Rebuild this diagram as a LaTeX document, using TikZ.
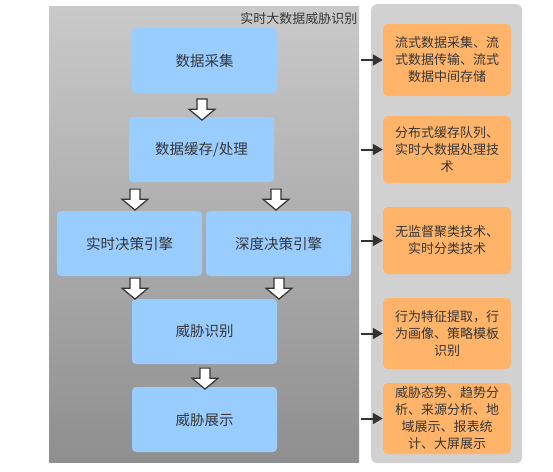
\documentclass[tikz,border=0pt]{standalone}
\usepackage{fontspec}
\newfontfamily\cjk{Noto Sans CJK SC}
\usetikzlibrary{arrows.meta, shapes.arrows}
\definecolor{stepblue}{HTML}{99CCFF}
\definecolor{techorange}{HTML}{FFB469}
\definecolor{txt}{HTML}{363636}

\begin{document}
\begin{tikzpicture} [x=1pt, y=-1pt, align=center,
  stepbox/.style={rectangle, rounded corners=4pt, fill=stepblue, minimum width=145pt, minimum height=65pt, inner sep=0pt, text=txt, font=\cjk\fontsize{14.5}{17}\selectfont},
  techbox/.style={rectangle, rounded corners=5pt, fill=techorange, minimum width=128pt, inner sep=0pt, text=txt, font=\cjk\fontsize{13}{17}\selectfont},
  down/.style={single arrow, shape border rotate=270, draw=black!80, line width=1.2pt, fill=white, inner sep=4.4pt, minimum height=21pt, single arrow head extend=8pt, single arrow tip angle=100},
  link/.style={draw=black!80, line width=2pt, -{Triangle[length=10pt, width=11pt]}, shorten <=2pt}]
\useasboundingbox (0, 0) rectangle (553, 471);

\path (49, 6) node[rectangle, anchor=north west, minimum width=310pt, minimum height=456pt, top color=black!21, bottom color=black!44] (core) {}
      (371, 4) node[rectangle, anchor=north west, rounded corners=6pt, fill=black!18, minimum width=151pt, minimum height=459pt] (tech) {}
      (361, 19) node[anchor=east, text=txt, font=\cjk\fontsize{13}{15}\selectfont] (title) {实时大数据威胁识别};

\path (204.5, 60.5) node[stepbox] (collect) {数据采集}
      (201.5, 149.5) node[stepbox] (cache) {数据缓存/处理}
      (129.5, 243.5) node[stepbox] (realtime) {实时决策引擎}
      (278.5, 243.5) node[stepbox] (deep) {深度决策引擎}
      (204.5, 331.5) node[stepbox] (detect) {威胁识别}
      (204.5, 419.5) node[stepbox] (show) {威胁展示};

\path (202, 107.5) node[down] (d1) {}
      (135, 197.5) node[down] (d2) {}
      (276, 197.5) node[down] (d3) {}
      (135, 286.5) node[down] (d4) {}
      (279, 286.5) node[down] (d5) {}
      (205, 376.5) node[down] (d6) {};

\path (447, 60) node[techbox, minimum height=72pt] (t1) {流式数据采集、流\\式数据传输、流式\\数据中间存储}
      (447, 149.5) node[techbox, minimum height=67pt] (t2) {分布式缓存队列、\\实时大数据处理技\\术}
      (447, 240.5) node[techbox, minimum height=67pt] (t3) {无监督聚类技术、\\实时分类技术}
      (447, 333.5) node[techbox, minimum height=71pt] (t4) {行为特征提取，行\\为画像、策略模板\\识别}
      (447, 418.5) node[techbox, minimum height=71pt] (t5) {威胁态势、趋势分\\析、来源分析、地\\域展示、报表统\\计、大屏展示};

\draw[link] (core.east |- t1.west) -- (t1.west);
\draw[link] (core.east |- t2.west) -- (t2.west);
\draw[link] (core.east |- t3.west) -- (t3.west);
\draw[link] (core.east |- t4.west) -- (t4.west);
\draw[link] (core.east |- t5.west) -- (t5.west);
\end{tikzpicture}
\end{document}
